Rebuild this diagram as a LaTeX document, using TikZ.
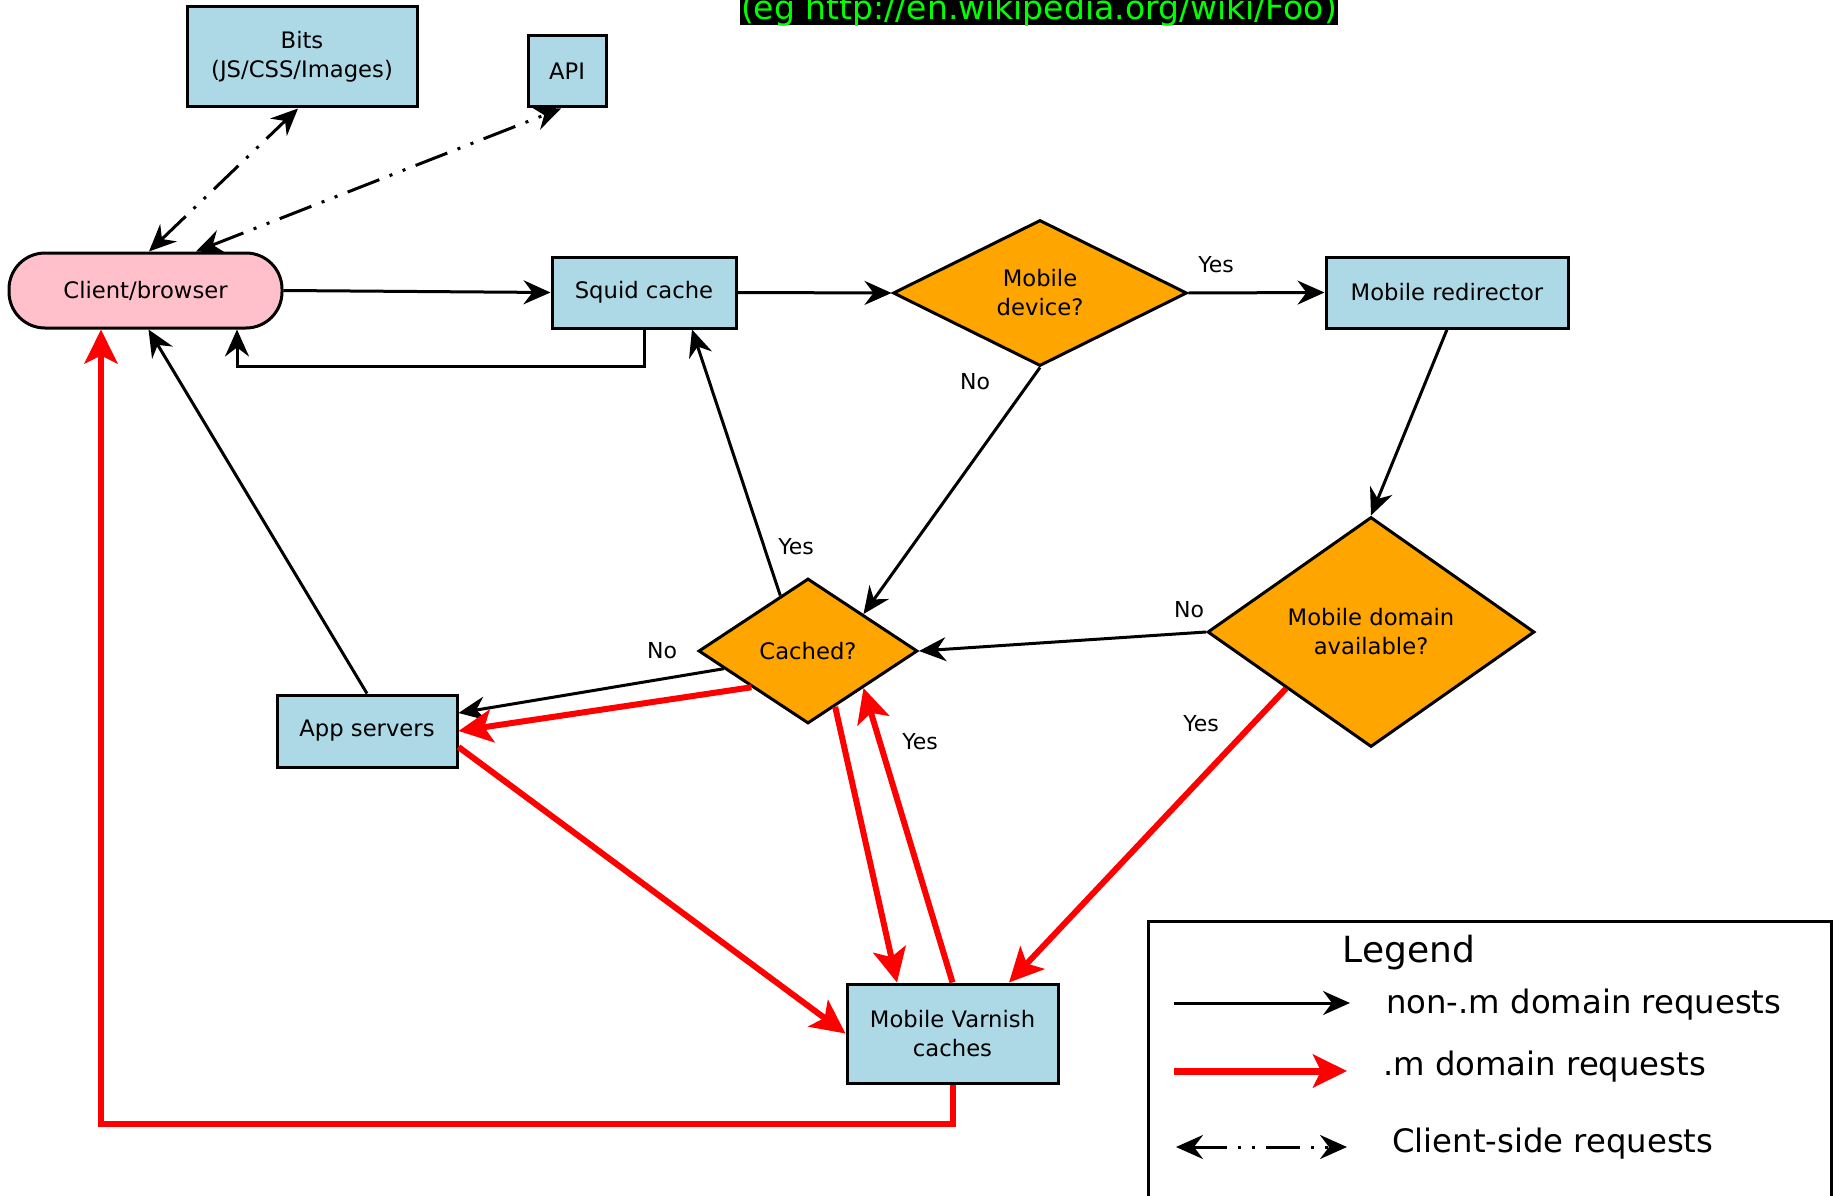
\documentclass[tikz,border=0pt]{standalone}
\usepackage{fontspec}
\setmainfont{DejaVu Sans}
\usetikzlibrary{arrows.meta,shapes.geometric,calc}
\definecolor{boxblue}{HTML}{ADD8E6}
\definecolor{decor}{HTML}{FFA500}
\definecolor{clientpink}{HTML}{FFC0CB}
\definecolor{bannergreen}{HTML}{00FF00}
\newcommand\nodefnt{\fontsize{22.7pt}{29pt}\selectfont}
\newcommand\labfnt{\fontsize{22pt}{26pt}\selectfont}
\newcommand\legfnt{\fontsize{32.3pt}{38pt}\selectfont}
\newcommand\legtitlefnt{\fontsize{36pt}{42pt}\selectfont}
\newcommand\bannerfnt{\fontsize{33pt}{38pt}\selectfont}
\begin{document}
\begin{tikzpicture}[x=1pt,y=-1pt,
  bluebox/.style={draw=black,line width=3pt,fill=boxblue,inner sep=0pt,align=center,font=\nodefnt},
  decision/.style={draw=black,line width=3pt,fill=decor,shape=diamond,inner sep=0pt,align=center,font=\nodefnt},
  lbl/.style={inner sep=0pt,font=\labfnt},
  blktip/.tip={Stealth[length=27pt,width=24pt,inset=9pt]},
  redtip/.tip={Stealth[length=34pt,width=33pt,inset=8pt]},
  blk/.style={draw=black,line width=3pt,-blktip},
  redarr/.style={draw=red,line width=6pt,-redtip},
  cside/.style={draw=black,line width=3pt,dash pattern=on 34pt off 11pt on 3pt off 11pt on 3pt off 11pt,blktip-blktip},
]
\useasboundingbox (0,0) rectangle (1837,1196);
\clip (0,0) rectangle (1837,1196);
\fill[white] (0,0) rectangle (1837,1196);

% banner
\fill[black] (740,-40) rectangle (1338,25);
\node[font=\bannerfnt, text=bannergreen, anchor=base, inner sep=0pt] (banner) at (1039,19.5) {(eg http://en.wikipedia.org/wiki/Foo)};

% nodes
\node[bluebox, minimum width=230pt, minimum height=100pt] (bits) at (302,57) {Bits\\(JS/CSS/Images)};
\node[bluebox, minimum width=78pt, minimum height=71pt] (api) at (567,71.5) {API};
\node[draw=black,line width=3pt,fill=clientpink,rounded corners=36pt,minimum width=273pt,minimum height=75pt,inner sep=0pt,font=\nodefnt] (client) at (145.5,290.5) {Client/browser};
\node[bluebox, minimum width=184pt, minimum height=71pt] (squid) at (644,292.5) {Squid cache};
\node[decision, minimum width=294pt, minimum height=146pt] (mobdev) at (1040,293) {Mobile\\device?};
\node[bluebox, minimum width=242pt, minimum height=71pt] (redir) at (1447,292.5) {Mobile redirector};
\node[decision, minimum width=327pt, minimum height=230pt] (mobdom) at (1371,632) {Mobile domain\\available?};
\node[decision, minimum width=219pt, minimum height=145pt] (cached) at (808,651) {Cached?};
\node[bluebox, minimum width=180pt, minimum height=72pt] (app) at (367,731) {App servers};
\node[bluebox, minimum width=211pt, minimum height=99pt] (varnish) at (952.5,1033.5) {Mobile Varnish\\caches};

% black connectors
\draw[blk] (client.east) -- (squid.west);
\draw[blk] (squid.south) -- ++(0,36.5) -| ([xshift=91.5pt]client.south);
\draw[blk] (squid.east) -- (mobdev.west);
\draw[blk] (mobdev.east) -- (redir.west);
\draw[blk] (redir.south) -- (mobdom.north);
\draw[blk] (mobdev.south) -- ($(cached.north)!0.5!(cached.east)$);
\draw[blk] (mobdom.west) -- (cached.east);
\draw[blk] ($(cached.north)!0.25!(cached.west)$) -- ([xshift=48pt]squid.south);
\draw[blk] ($(cached.west)!0.24!(cached.south)$) -- ([yshift=18pt]app.east);
\draw[blk] (app.north) -- ([xshift=3pt]client.south);

% red connectors
\draw[redarr] ($(cached.west)!0.49!(cached.south)$) -- (app.east);
\draw[redarr] ([yshift=-16pt]app.east) -- (varnish.west);
\draw[redarr] ($(cached.south)!0.245!(cached.east)$) -- ([xshift=-55.5pt]varnish.north);
\draw[redarr] (varnish.north) -- ($(cached.south)!0.5!(cached.east)$);
\draw[redarr] ($(mobdom.west)!0.485!(mobdom.south)$) -- ([xshift=56.5pt]varnish.north);
\draw[redarr] (varnish.south) -- ++(0,39.5) -| ([xshift=-44.5pt]client.south);

% client-side
\draw[cside] ([xshift=3.5pt]client.north) -- ([xshift=-4pt]bits.south);
\draw[cside] ([xshift=50.5pt]client.north) -- ([xshift=-6pt]api.south);

% labels
\node[lbl] (yes1) at (1216,265) {Yes};
\node[lbl] (no1) at (975,382) {No};
\node[lbl] (yes2) at (796,547) {Yes};
\node[lbl] (no2) at (1189,610) {No};
\node[lbl] (no3) at (662,651) {No};
\node[lbl] (yes3) at (920,742) {Yes};
\node[lbl] (yes4) at (1201,724) {Yes};

% legend
\draw[black,line width=3pt] (1148,921) rectangle (1831,1200);
\node[font=\legtitlefnt, anchor=base, inner sep=0pt] (legtitle) at (1409,962) {Legend};
\coordinate (l1a) at (1174,1003); \coordinate (l1b) at (1350,1003);
\draw[blk] (l1a) -- (l1b);
\node[font=\legfnt, anchor=base west, inner sep=0pt] (l1t) at (1386,1013) {non-.m domain requests};
\coordinate (l2a) at (1174,1071); \coordinate (l2b) at (1347,1071);
\draw[redarr, line width=7pt] (l2a) -- (l2b);
\node[font=\legfnt, anchor=base west, inner sep=0pt] (l2t) at (1383,1075) {.m domain requests};
\coordinate (l3a) at (1176,1147); \coordinate (l3b) at (1347,1147);
\draw[cside] (l3a) -- (l3b);
\node[font=\legfnt, anchor=base west, inner sep=0pt] (l3t) at (1392,1152) {Client-side requests};
\end{tikzpicture}
\end{document}
